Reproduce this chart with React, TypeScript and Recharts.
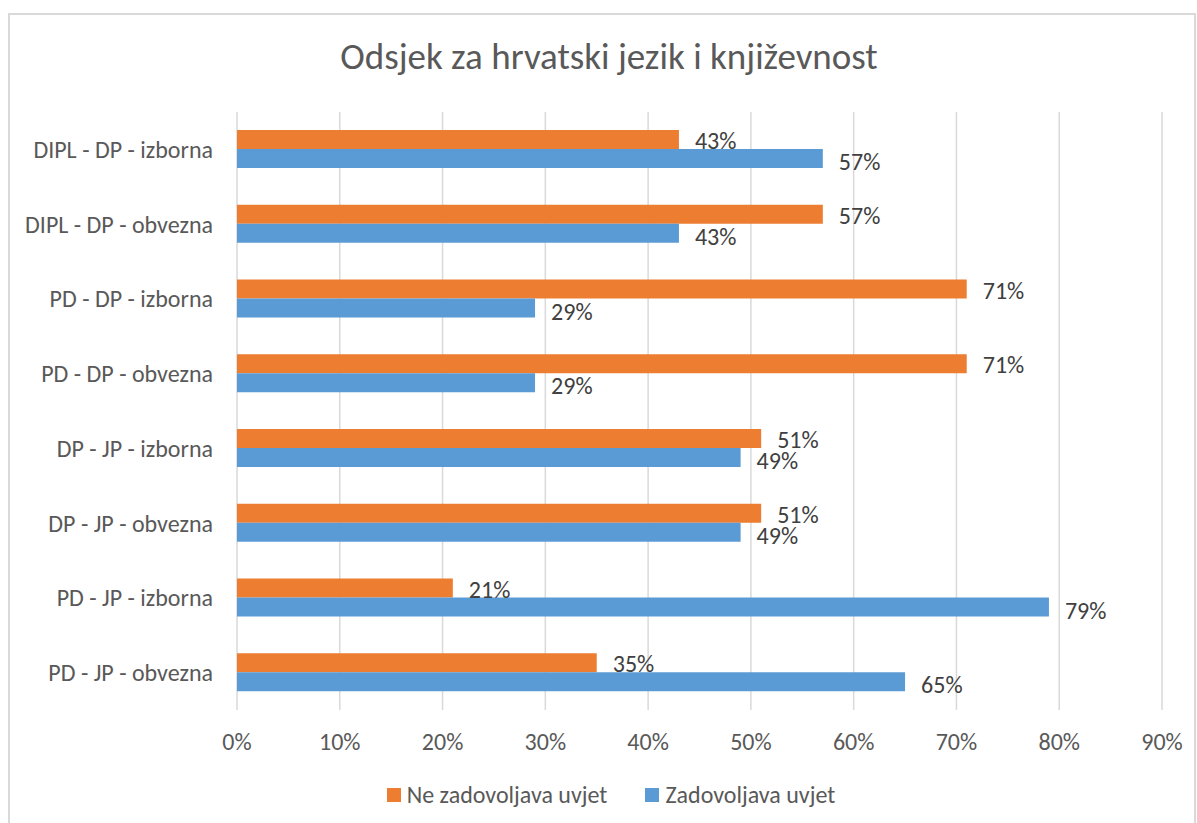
import React from 'react';
import {
  BarChart, Bar, XAxis, YAxis, CartesianGrid, Legend, LabelList,
} from 'recharts';

// categories top to bottom
const categories = [
  'DIPL - DP - izborna',
  'DIPL - DP - obvezna',
  'PD - DP - izborna',
  'PD - DP - obvezna',
  'DP - JP - izborna',
  'DP - JP - obvezna',
  'PD - JP - izborna',
  'PD - JP - obvezna',
];
const neZadovoljava = [43, 57, 71, 71, 51, 51, 21, 35];
const zadovoljava = [57, 43, 29, 29, 49, 49, 79, 65];
const xTicks = [0, 10, 20, 30, 40, 50, 60, 70, 80, 90];

const FONT = 'Calibri, Carlito, Lato, sans-serif';
const GREY = '#595959';

const data = categories.map((name, i) => ({
  name,
  ne: neZadovoljava[i],
  da: zadovoljava[i],
}));

const pct = (v: any) => `${v}%`;

const renderLegend = (props: any) => {
  const { payload } = props;
  return (
    <div style={{ display: 'flex', justifyContent: 'center', gap: 38, fontFamily: FONT, fontSize: 24, color: GREY, lineHeight: '28px' }}>
      {payload.map((p: any) => (
        <div key={p.value} style={{ display: 'flex', alignItems: 'center' }}>
          <span style={{ display: 'inline-block', width: 14, height: 14, background: p.color, marginRight: 6 }} />
          <span>{p.value}</span>
        </div>
      ))}
    </div>
  );
};

export default function App() {
  return (
    <div style={{ position: 'fixed', left: 0, top: 0, width: 1197, height: 823, background: '#fff', overflow: 'hidden' }}>
      <div
        style={{
          position: 'absolute', left: 8, top: 13, width: 1188, height: 830, boxSizing: 'border-box',
          borderTop: '2px solid #d9d9d9', borderLeft: '2px solid #d9d9d9', borderRight: '2px solid #d9d9d9',
        }}
      />
      <div
        style={{
          position: 'absolute', left: 0, width: 1218, top: 36, textAlign: 'center',
          fontFamily: FONT, fontSize: 37, color: GREY, lineHeight: '42px',
        }}
      >
        Odsjek za hrvatski jezik i književnost
      </div>
      <div style={{ position: 'absolute', left: 0, top: 0 }}>
        <BarChart
          width={1197}
          height={823}
          data={data}
          layout="vertical"
          margin={{ top: 112, right: 35, left: 0, bottom: 63 }}
          barGap={0}
          barSize={19}
        >
          <CartesianGrid horizontal={false} stroke="#d9d9d9" strokeWidth={1.5} />
          <XAxis
            type="number"
            domain={[0, 90]}
            ticks={xTicks}
            tickFormatter={pct}
            axisLine={false}
            tickLine={false}
            height={50}
            tickMargin={17}
            tick={{ fill: GREY, fontSize: 24, fontFamily: FONT }}
          />
          <YAxis
            type="category"
            dataKey="name"
            width={237}
            axisLine={false}
            tickLine={false}
            tickMargin={18}
            tick={{ fill: GREY, fontSize: 24, fontFamily: FONT }}
          />
          <Legend
            layout="horizontal"
            verticalAlign="middle"
            align="center"
            content={renderLegend}
            wrapperStyle={{ top: 781, left: 30, width: 1162 }}
          />
          <Bar dataKey="ne" name="Ne zadovoljava uvjet" fill="#ED7D31" isAnimationActive={false}>
            <LabelList dataKey="ne" position="right" offset={16} formatter={pct} fill="#404040" fontSize={24} fontFamily={FONT} dy={1} />
          </Bar>
          <Bar dataKey="da" name="Zadovoljava uvjet" fill="#5B9BD5" isAnimationActive={false}>
            <LabelList dataKey="da" position="right" offset={16} formatter={pct} fill="#404040" fontSize={24} fontFamily={FONT} dy={3} />
          </Bar>
        </BarChart>
      </div>
    </div>
  );
}
